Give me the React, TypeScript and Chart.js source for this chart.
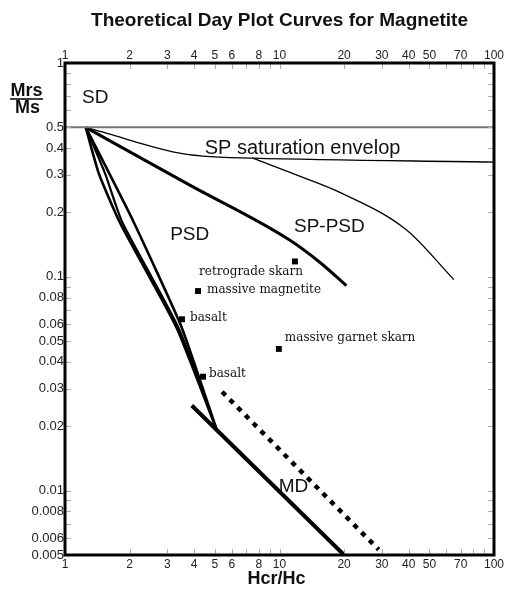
import React, { useEffect, useRef } from "react";
import { Chart, registerables } from "chart.js";

Chart.register(...registerables);

// ---- tick labels ----
const xTicks = [1, 2, 3, 4, 5, 6, 8, 10, 20, 30, 40, 50, 70, 100];
const yTicks = [1, 0.5, 0.4, 0.3, 0.2, 0.1, 0.08, 0.06, 0.05, 0.04, 0.03, 0.02, 0.01, 0.008, 0.006, 0.005];

// ---- curves (Hcr/Hc, Mrs/Ms) ----
const sdX = [1, 100];
const sdY = [0.5, 0.5];
const envX = [1.25, 1.62, 2.23, 3.18, 4.39, 7.5, 100];
const envY = [0.5, 0.465, 0.422, 0.384, 0.367, 0.359, 0.344];
const spsdX = [7.5, 12.4, 19, 39, 65];
const spsdY = [0.359, 0.296, 0.249, 0.166, 0.097];
const sppsdX = [1.25, 3.8, 11.1, 15.4, 20.5];
const sppsdY = [0.5, 0.269, 0.149, 0.117, 0.091];
const mixAX = [1.25, 1.44, 1.8, 2.46, 3.35, 5.1];
const mixAY = [0.5, 0.303, 0.18, 0.101, 0.0564, 0.0192];
const mixBX = [1.25, 1.54, 1.85, 3.4, 5.1];
const mixBY = [0.5, 0.303, 0.18, 0.057, 0.0192];
const mixCX = [1.25, 2.07, 3.5, 5.1];
const mixCY = [0.5, 0.184, 0.058, 0.0192];
const mdX = [3.9, 20];
const mdY = [0.025, 0.005];
const dotX = [5.4, 29];
const dotY = [0.029, 0.0053];

// ---- samples ----
const sampleNames = ["retrograde skarn", "massive magnetite", "basalt", "massive garnet skarn", "basalt"];
const sampleX = [11.8, 4.17, 3.51, 9.93, 4.4];
const sampleY = [0.118, 0.0858, 0.0633, 0.046, 0.0341];

// ---- region labels ----
const regionNames = ["SD", "SP saturation envelop", "PSD", "SP-PSD", "MD"];
const regionX = [1.2, 4.48, 3.815, 17.08, 11.62];
const regionY = [0.686, 0.4, 0.157, 0.171, 0.0104];

const SANS = '"Liberation Sans", Arial, sans-serif';
const SERIF = '"DejaVu Serif", serif';

const pts = (xs: number[], ys: number[]) => xs.map((x, i) => ({ x, y: ys[i] }));

const decor = {
  id: "decor",
  afterDatasetsDraw(chart: any) {
    const ctx = chart.ctx;
    const xs = chart.scales.x;
    const ys = chart.scales.y;
    const a = chart.chartArea;
    ctx.save();
    // inner minor ticks
    ctx.strokeStyle = "#aaa";
    ctx.lineWidth = 1;
    const xMinor: number[] = [];
    for (const d of [1, 10]) for (let m = 1; m <= 9; m++) xMinor.push(m * d);
    xMinor.push(100);
    ctx.beginPath();
    xMinor.forEach((v) => {
      const px = Math.round(xs.getPixelForValue(v)) + 0.5;
      ctx.moveTo(px, a.bottom);
      ctx.lineTo(px, a.bottom - 6);
      ctx.moveTo(px, a.top);
      ctx.lineTo(px, a.top + 6);
    });
    const yMinor: number[] = [];
    for (const d of [0.001, 0.01, 0.1]) for (let m = 1; m <= 9; m++) if (m * d >= 0.005) yMinor.push(m * d);
    yMinor.push(1);
    yMinor.forEach((v) => {
      const py = Math.round(ys.getPixelForValue(v)) + 0.5;
      ctx.moveTo(a.left, py);
      ctx.lineTo(a.left + 6, py);
      ctx.moveTo(a.right, py);
      ctx.lineTo(a.right - 6, py);
    });
    ctx.stroke();

    // region labels
    ctx.fillStyle = "#111";
    ctx.textBaseline = "middle";
    regionNames.forEach((t, i) => {
      const px = xs.getPixelForValue(regionX[i]);
      const py = ys.getPixelForValue(regionY[i]);
      ctx.textAlign = i === 0 || i === 1 ? "left" : "center";
      ctx.font = (i === 1 ? "20px " : "19px ") + SANS;
      ctx.fillText(t, px, py);
    });

    // sample labels
    ctx.font = "12px " + SERIF;
    const offs = [
      { dx: 8, dy: 10, al: "right" },
      { dx: 9, dy: -1, al: "left" },
      { dx: 8, dy: -1, al: "left" },
      { dx: 6, dy: -11, al: "left" },
      { dx: 6, dy: -3, al: "left" },
    ];
    sampleNames.forEach((t, i) => {
      const px = xs.getPixelForValue(sampleX[i]);
      const py = ys.getPixelForValue(sampleY[i]);
      ctx.textAlign = offs[i].al;
      ctx.fillText(t, px + offs[i].dx, py + offs[i].dy);
    });
    ctx.restore();
  },
  afterDraw(chart: any) {
    const ctx = chart.ctx;
    const a = chart.chartArea;
    ctx.save();
    ctx.strokeStyle = "#000";
    ctx.lineWidth = 3;
    ctx.strokeRect(a.left, a.top, a.right - a.left, a.bottom - a.top);

    ctx.fillStyle = "#111";
    ctx.textBaseline = "middle";
    ctx.textAlign = "center";
    ctx.font = "bold 19px " + SANS;
    ctx.fillText("Theoretical Day Plot Curves for Magnetite", (a.left + a.right) / 2, 20.5);

    ctx.font = "bold 18px " + SANS;
    ctx.fillText("Hcr/Hc", (a.left + a.right) / 2 - 3, 579);

    ctx.fillText("Mrs", 26.5, 91);
    ctx.fillText("Ms", 27.5, 108);
    ctx.lineWidth = 1.5;
    ctx.beginPath();
    ctx.moveTo(10, 99);
    ctx.lineTo(43, 99);
    ctx.stroke();
    ctx.restore();
  },
};

export default function App() {
  const ref = useRef<HTMLCanvasElement | null>(null);
  useEffect(() => {
    document.body.style.margin = "0";
    document.body.style.overflow = "hidden";
    if (!ref.current) return;
    const tickFontX = { family: SANS, size: 12 };
    const tickFontY = { family: SANS, size: 13 };
    const baseTicks = (font: any, padding: number) => ({
      autoSkip: false,
      maxRotation: 0,
      minRotation: 0,
      padding,
      color: "#222",
      font,
      callback: (v: any) => String(v),
    });
    const line = (data: any, w: number, color = "#000", extra: any = {}) => ({
      type: "line",
      data,
      borderColor: color,
      borderWidth: w,
      pointRadius: 0,
      fill: false,
      tension: 0,
      ...extra,
    });
    const chart = new Chart(ref.current, {
      type: "line",
      data: {
        datasets: [
          line(pts(sdX, sdY), 2, "#777"),
          line(pts(envX, envY), 1.3, "#000", { cubicInterpolationMode: "monotone" }),
          line(pts(spsdX, spsdY), 1.3, "#000", { cubicInterpolationMode: "monotone" }),
          line(pts(sppsdX, sppsdY), 3, "#000", { cubicInterpolationMode: "monotone" }),
          line(pts(mixAX, mixAY), 2.6, "#000", { tension: 0.2 }),
          line(pts(mixBX, mixBY), 2.2, "#000", { tension: 0.2 }),
          line(pts(mixCX, mixCY), 2.6, "#000", { tension: 0.15 }),
          line(pts(mdX, mdY), 4, "#000"),
          line(pts(dotX, dotY), 4.5, "#000", { borderDash: [5, 6] }),
          {
            type: "scatter",
            data: pts(sampleX, sampleY),
            pointStyle: "rect",
            pointRadius: 4.2,
            pointBackgroundColor: "#000",
            pointBorderWidth: 0,
            showLine: false,
          },
        ] as any,
      },
      options: {
        responsive: false,
        animation: false,
        layout: { padding: 0 },
        plugins: { legend: { display: false }, tooltip: { enabled: false }, title: { display: false } },
        scales: {
          x: {
            type: "logarithmic",
            position: "bottom",
            min: 1,
            max: 100,
            grid: { display: false, drawTicks: false },
            border: { display: false },
            ticks: baseTicks(tickFontX, 2),
            afterBuildTicks: (s: any) => {
              s.ticks = xTicks.map((v) => ({ value: v }));
            },
            afterFit: (s: any) => {
              s.height = 40;
              s.paddingLeft = 0;
              s.paddingRight = 0;
            },
          },
          x2: {
            type: "logarithmic",
            position: "top",
            display: true,
            min: 1,
            max: 100,
            grid: { display: false, drawTicks: false },
            border: { display: false },
            ticks: baseTicks(tickFontX, 0),
            afterBuildTicks: (s: any) => {
              s.ticks = xTicks.map((v) => ({ value: v }));
            },
            afterFit: (s: any) => {
              s.height = 63;
              s.paddingLeft = 0;
              s.paddingRight = 0;
            },
          },
          y: {
            type: "logarithmic",
            position: "left",
            min: 0.005,
            max: 1,
            grid: { display: false, drawTicks: false },
            border: { display: false },
            ticks: baseTicks(tickFontY, 1),
            afterBuildTicks: (s: any) => {
              s.ticks = yTicks.map((v) => ({ value: v }));
            },
            afterFit: (s: any) => {
              s.width = 65;
              s.paddingTop = 0;
              s.paddingBottom = 0;
            },
          },
          y2: {
            type: "logarithmic",
            position: "right",
            display: true,
            min: 0.005,
            max: 1,
            grid: { display: false, drawTicks: false },
            border: { display: false },
            ticks: { display: false },
            afterFit: (s: any) => {
              s.width = 13;
              s.paddingTop = 0;
              s.paddingBottom = 0;
            },
          },
        } as any,
      },
      plugins: [decor as any],
    } as any);
    return () => chart.destroy();
  }, []);
  return (
    <canvas ref={ref} width={507} height={595} style={{ display: "block", width: 507, height: 595 }} />
  );
}
